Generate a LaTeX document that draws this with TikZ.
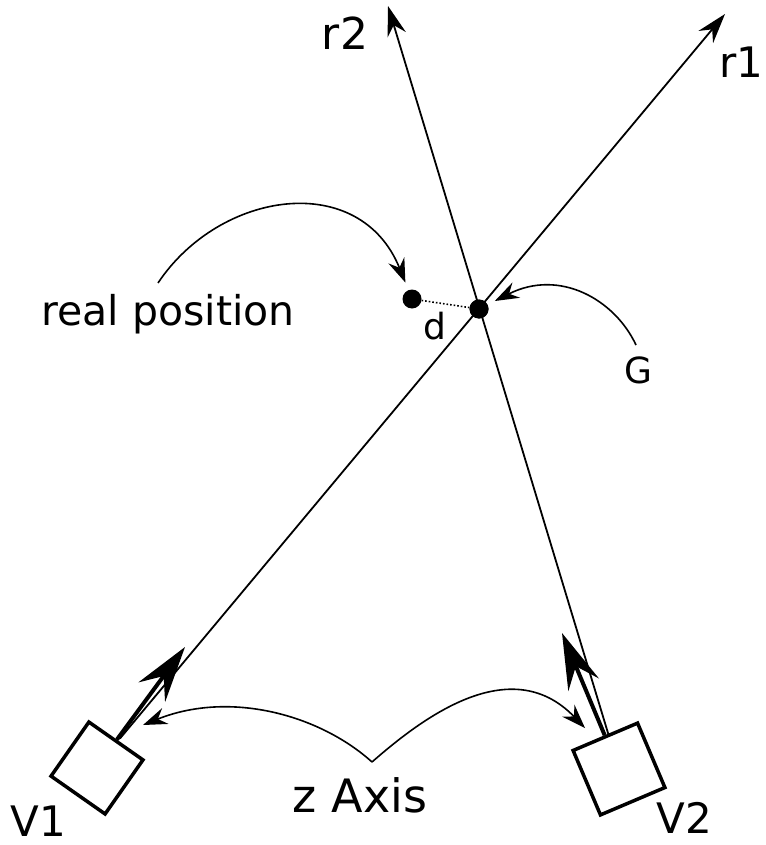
\documentclass[tikz,border=0pt]{standalone}
\usepackage{fontspec}
\setmainfont{DejaVu Sans}
\usetikzlibrary{arrows.meta, calc}
\tikzset{
	cam/.style      ={rectangle, draw=black, line width=3.5pt, minimum size=66pt, inner sep=0pt, fill=white},
	dot/.style      ={circle, fill=black, minimum size=19pt, inner sep=0pt},
	ray/.style      ={-{Stealth[length=30pt, width=19pt, inset=10pt]}, line width=1.8pt},
	camaxis/.style  ={-{Stealth[length=56pt, width=33pt, inset=20pt]}, line width=4pt},
	hint/.style     ={-{Stealth[length=24pt, width=17pt, inset=8pt]}, line width=1.6pt},
	lbl/.style      ={font=\fontsize{#1}{#1}\selectfont, inner sep=0pt},
}
\begin{document}
\begin{tikzpicture}[x=1pt, y=-1pt]
	\useasboundingbox (0,0) rectangle (765,845);
	% cameras
	\node[cam, rotate=-35] (V1) at (97,768) {};
	\node[cam, rotate=23, minimum size=70pt] (V2) at (619,769) {};
	\node[lbl=42] (V1 label) at (38,821) {V1};
	\node[lbl=42] (V2 label) at (684,818) {V2};
	% points
	\node[dot] (G) at (479,309) {};
	\node[dot] (real) at (412,299) {};
	\coordinate (r1 end) at (725,14);
	\coordinate (r2 end) at (388,6);
	\coordinate (V1 look) at (185,647);
	\coordinate (V2 look) at (562,633);
	% camera axes and rays
	\draw[camaxis] (V1.north) -- (V1 look);
	\draw[camaxis] (V2.north) -- (V2 look);
	\draw[ray] ($(V1.north)+(3,-1)$) -- (r1 end);
	\draw[ray] ($(V2.north)+(4,0)$) -- (r2 end);
	\node[dot] at (G) {};
	\draw[dotted, line width=1.6pt] (real) -- (G);
	\node[lbl=42] (r1) at (741,62) {r1};
	\node[lbl=44] (r2) at (345,33) {r2};
	\node[lbl=36] (d) at (435,326) {d};
	% labels with pointers
	\node[lbl=41] (realpos) at (168,314) {real position};
	\node[lbl=36] (Glabel) at (638,370) {G};
	\node[lbl=46] (zaxis) at (360,795) {z Axis};
	\coordinate (rp tail) at (158,283);
	\coordinate (G tail) at (636,345);
	\coordinate (z tail) at (372,762);
	\coordinate (z left) at (143,725);
	\coordinate (z right) at (585,728);
	\draw[hint, shorten >=8pt] (rp tail) .. controls (220,190) and (360,170) .. (real);
	\draw[hint, shorten >=8pt] (G tail) .. controls (615,300) and (560,268) .. (G);
	\draw[hint] (z tail) .. controls (320,715) and (230,690) .. (z left);
	\draw[hint] (z tail) .. controls (420,720) and (510,650) .. (z right);
\end{tikzpicture}
\end{document}
